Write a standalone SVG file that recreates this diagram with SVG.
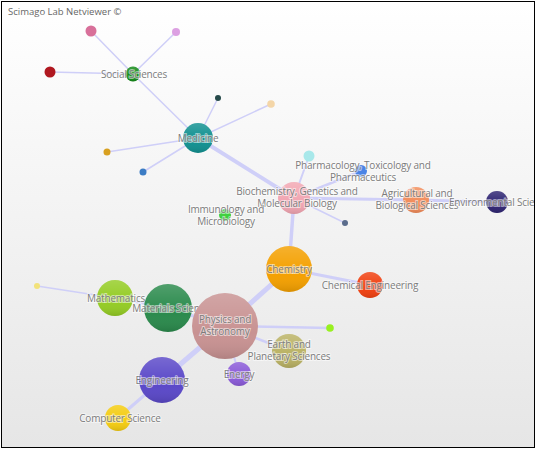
<svg xmlns="http://www.w3.org/2000/svg" width="537" height="451" viewBox="0 0 537 451">
<defs>
<linearGradient id="bg" x1="0" y1="0" x2="0" y2="1">
<stop offset="0" stop-color="#ffffff"/>
<stop offset="1" stop-color="#e6e6e6"/>
</linearGradient>
<linearGradient id="shade" x1="0" y1="0" x2="0" y2="1">
<stop offset="0" stop-color="#ffffff" stop-opacity="0.18"/>
<stop offset="0.6" stop-color="#ffffff" stop-opacity="0"/>
<stop offset="1" stop-color="#000000" stop-opacity="0.12"/>
</linearGradient>
<clipPath id="frame"><rect x="2" y="2" width="532" height="445"/></clipPath>
<style>
.e{stroke:#cfcff8;fill:none;stroke-linecap:round}
.t{font-family:"Open Sans","Liberation Sans",sans-serif;font-size:10px;fill:#7c7c7c;text-anchor:middle;stroke:#ffffff;stroke-width:2;stroke-opacity:0.55;paint-order:stroke;letter-spacing:-0.2px}
.s{fill:url(#shade)}
</style>
</defs>
<rect x="0" y="0" width="537" height="451" fill="#ffffff"/>
<rect x="1.5" y="1.5" width="533" height="446" fill="url(#bg)" stroke="#000000" stroke-width="1"/>
<text x="8" y="15" font-family="'Open Sans','Liberation Sans',sans-serif" font-size="9.5" fill="#666666">Scimago Lab Netviewer ©</text>
<g clip-path="url(#frame)">
<g id="connectors">
<line class="e" x1="133" y1="74" x2="91" y2="31" stroke-width="1.5"/>
<line class="e" x1="133" y1="74" x2="176" y2="32" stroke-width="1.5"/>
<line class="e" x1="133" y1="74" x2="50" y2="72" stroke-width="1.5"/>
<line class="e" x1="133" y1="74" x2="198" y2="138" stroke-width="1.5"/>
<line class="e" x1="198" y1="138" x2="218" y2="98" stroke-width="1.5"/>
<line class="e" x1="198" y1="138" x2="271" y2="104" stroke-width="1.5"/>
<line class="e" x1="198" y1="138" x2="107" y2="152" stroke-width="1.5"/>
<line class="e" x1="198" y1="138" x2="143" y2="172" stroke-width="1.5"/>
<line class="e" x1="198" y1="138" x2="294" y2="198" stroke-width="4" stroke="#b0b0f4"/>
<line class="e" x1="294" y1="198" x2="309" y2="156" stroke-width="2"/>
<line class="e" x1="294" y1="198" x2="361" y2="171" stroke-width="2.5" stroke="#c0c0f6"/>
<line class="e" x1="294" y1="198" x2="416" y2="200" stroke-width="3" stroke="#c0c0f6"/>
<line class="e" x1="416" y1="200" x2="497" y2="202" stroke-width="3" stroke="#c0c0f6"/>
<line class="e" x1="294" y1="198" x2="345" y2="223" stroke-width="1.5"/>
<line class="e" x1="294" y1="198" x2="289" y2="269" stroke-width="3.5" stroke="#bcbcf6"/>
<line class="e" x1="289" y1="269" x2="370" y2="285" stroke-width="3" stroke="#c0c0f6"/>
<line class="e" x1="289" y1="269" x2="225" y2="326" stroke-width="5" stroke="#b8b8f4"/>
<line class="e" x1="225" y1="326" x2="330" y2="328" stroke-width="2.5" stroke="#c0c0f6"/>
<line class="e" x1="225" y1="326" x2="289" y2="351" stroke-width="2.5" stroke="#c0c0f6"/>
<line class="e" x1="225" y1="326" x2="162" y2="380" stroke-width="5" stroke="#b8b8f4"/>
<line class="e" x1="162" y1="380" x2="118" y2="418" stroke-width="3" stroke="#c0c0f6"/>
<line class="e" x1="225" y1="326" x2="168" y2="308" stroke-width="3" stroke="#c0c0f6"/>
<line class="e" x1="168" y1="308" x2="115" y2="298" stroke-width="2"/>
<line class="e" x1="115" y1="298" x2="37" y2="286" stroke-width="1.5"/>
<line class="e" x1="225" y1="326" x2="239" y2="374" stroke-width="2"/>
</g>
<g id="n-pink"><circle cx="91" cy="31" r="5.5" fill="#d8709a"/></g>
<g id="n-violet"><circle cx="176" cy="32" r="4" fill="#dca0e2"/></g>
<g id="n-darkred"><circle cx="50" cy="72" r="5.5" fill="#b01820"/></g>
<g id="n-teal-small"><circle cx="218" cy="98" r="3" fill="#264a4a"/></g>
<g id="n-peach"><circle cx="271" cy="104" r="3.8" fill="#f4d6a8"/></g>
<g id="n-orange-small"><circle cx="107" cy="152" r="3.5" fill="#d8a020"/></g>
<g id="n-blue-small"><circle cx="143" cy="172" r="3.5" fill="#3c7cc4"/></g>
<g id="n-cyan"><circle cx="309" cy="156" r="5.5" fill="#a8e8ea"/></g>
<g id="n-grayblue"><circle cx="345" cy="223" r="3" fill="#5a6c8c"/></g>
<g id="n-yellow-small"><circle cx="37" cy="286" r="3" fill="#f2e27a"/></g>
<g id="n-lime"><circle cx="330" cy="328" r="3.8" fill="#98f020"/></g>
<g id="n-social"><circle cx="133" cy="74" r="7.5" fill="#138a18"/><circle class="s" cx="133" cy="74" r="7.5"/><text class="t" x="134" y="78">Social Sciences</text></g>
<g id="n-medicine"><circle cx="198" cy="138" r="15" fill="#109090"/><circle class="s" cx="198" cy="138" r="15"/><text class="t" x="198" y="142">Medicine</text></g>
<g id="n-pharma"><circle cx="361" cy="171" r="6" fill="#4a84e6"/><text class="t" x="363" y="169">Pharmacology, Toxicology and<tspan x="363" dy="12">Pharmaceutics</tspan></text></g>
<g id="n-biochem"><circle cx="294" cy="198" r="16" fill="#f2a6b2"/><circle class="s" cx="294" cy="198" r="16"/><text class="t" x="297" y="195">Biochemistry, Genetics and<tspan x="297" dy="12">Molecular Biology</tspan></text></g>
<g id="n-agri"><circle cx="416" cy="200" r="13" fill="#f28c5a"/><circle class="s" cx="416" cy="200" r="13"/><text class="t" x="417" y="197">Agricultural and<tspan x="417" dy="12">Biological Sciences</tspan></text></g>
<g id="n-env"><circle cx="497" cy="202" r="11" fill="#2e2472"/><circle class="s" cx="497" cy="202" r="11"/><text class="t" x="502" y="206">Environmental Sciences</text></g>
<g id="n-immuno"><circle cx="225" cy="215" r="6" fill="#40d040"/><text class="t" x="226" y="213">Immunology and<tspan x="226" dy="12">Microbiology</tspan></text></g>
<g id="n-chemistry"><circle cx="289" cy="269" r="23" fill="#f4a000"/><circle class="s" cx="289" cy="269" r="23"/><text class="t" x="289" y="273">Chemistry</text></g>
<g id="n-chemeng"><circle cx="370" cy="285" r="13" fill="#f04010"/><circle class="s" cx="370" cy="285" r="13"/><text class="t" x="370" y="289">Chemical Engineering</text></g>
<g id="n-math"><circle cx="115" cy="298" r="18" fill="#94cc24"/><circle class="s" cx="115" cy="298" r="18"/><text class="t" x="116" y="302">Mathematics</text></g>
<g id="n-materials"><circle cx="168" cy="308" r="24" fill="#2a8a4c"/><circle class="s" cx="168" cy="308" r="24"/><text class="t" x="171" y="312">Materials Science</text></g>
<g id="n-physics"><circle cx="225" cy="326" r="33" fill="#c89292"/><circle class="s" cx="225" cy="326" r="33"/><text class="t" x="225" y="323">Physics and<tspan x="225" dy="12">Astronomy</tspan></text></g>
<g id="n-earth"><circle cx="289" cy="351" r="17" fill="#bab264"/><circle class="s" cx="289" cy="351" r="17"/><text class="t" x="289" y="348">Earth and<tspan x="289" dy="12">Planetary Sciences</tspan></text></g>
<g id="n-energy"><circle cx="239" cy="374" r="12" fill="#8a5ad8"/><circle class="s" cx="239" cy="374" r="12"/><text class="t" x="239" y="378">Energy</text></g>
<g id="n-engineering"><circle cx="162" cy="380" r="23" fill="#5a48c8"/><circle class="s" cx="162" cy="380" r="23"/><text class="t" x="162" y="384">Engineering</text></g>
<g id="n-cs"><circle cx="118" cy="418" r="13" fill="#f4cc10"/><circle class="s" cx="118" cy="418" r="13"/><text class="t" x="120" y="422">Computer Science</text></g>
</g>
</svg>
